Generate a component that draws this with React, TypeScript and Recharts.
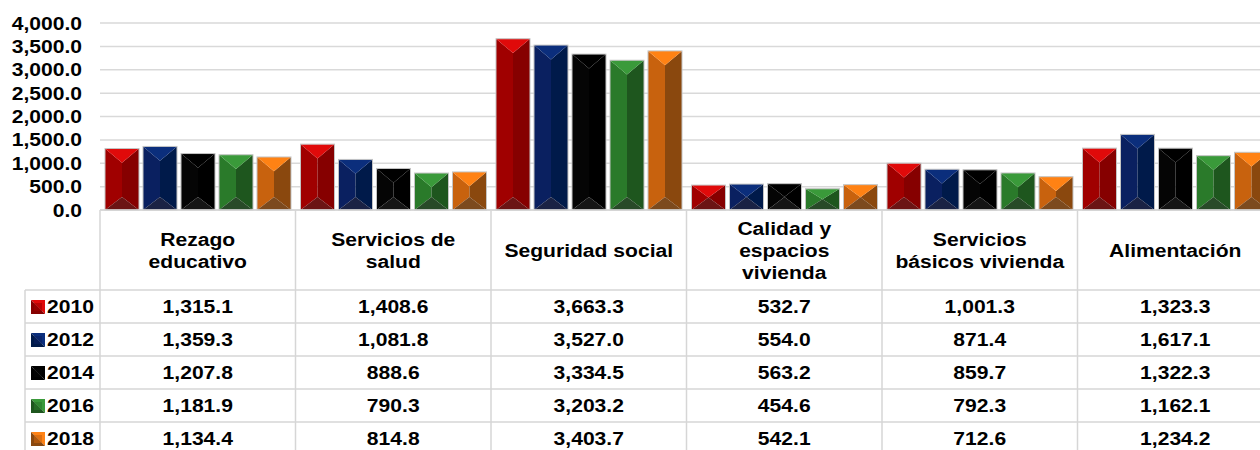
import { BarChart, Bar, XAxis, YAxis, CartesianGrid, Legend } from 'recharts'

const categories = [
  'Rezago\neducativo',
  'Servicios de\nsalud',
  'Seguridad social',
  'Calidad y\nespacios\nvivienda',
  'Servicios\nbásicos vivienda',
  'Alimentación',
]
const years = ['2010', '2012', '2014', '2016', '2018']
const y2010 = [1315.1, 1408.6, 3663.3, 532.7, 1001.3, 1323.3]
const y2012 = [1359.3, 1081.8, 3527.0, 554.0, 871.4, 1617.1]
const y2014 = [1207.8, 888.6, 3334.5, 563.2, 859.7, 1322.3]
const y2016 = [1181.9, 790.3, 3203.2, 454.6, 792.3, 1162.1]
const y2018 = [1134.4, 814.8, 3403.7, 542.1, 712.6, 1234.2]
const yTicks = [0, 500, 1000, 1500, 2000, 2500, 3000, 3500, 4000]

const seriesValues: Record<string, number[]> = {
  '2010': y2010,
  '2012': y2012,
  '2014': y2014,
  '2016': y2016,
  '2018': y2018,
}

// top / left / right / bottom faces of the bevelled bars
const SHADES: Record<string, string[]> = {
  '2010': ['#e00a0a', '#a00000', '#860000', '#6b1414'],
  '2012': ['#0b2e7c', '#0a2060', '#001a4a', '#1a2244'],
  '2014': ['#000000', '#050505', '#000000', '#151515'],
  '2016': ['#3a9a3a', '#2a7a2a', '#1e561e', '#284a28'],
  '2018': ['#ff8214', '#c8620e', '#8a480e', '#7c4a1e'],
}

const data = categories.map((name, i) => {
  const row: Record<string, string | number> = { name }
  years.forEach((yr) => (row[yr] = seriesValues[yr][i]))
  return row
})

const CHART_W = 1280
const PLOT_LEFT = 100
const PLOT_RIGHT = 7
const BAND = (CHART_W - PLOT_LEFT - PLOT_RIGHT) / categories.length
const FONT = '"Liberation Sans", Arial, sans-serif'
const FS = 18.5
const SX = 1.14
const BORDER = '#d6d6d6'
const HEADER_H = 80
const ROW_H = 33

const fmt = (v: number) =>
  v.toLocaleString('en-US', { minimumFractionDigits: 1, maximumFractionDigits: 1 })

function Txt({ x, y, children, anchor = 'middle' }: any) {
  return (
    <text
      transform={`translate(${x},${y}) scale(${SX},1)`}
      textAnchor={anchor}
      dominantBaseline="central"
      fontFamily={FONT}
      fontWeight="bold"
      fontSize={FS}
      fill="#000"
    >
      {children}
    </text>
  )
}

function bevel(colors: string[]) {
  return (props: any) => {
    const { x, y, width: w, height: h } = props
    if (!h || h <= 0) return <g />
    const cx = x + w / 2
    const dt = Math.min(w * 0.42, h / 2)
    const db = Math.min(w * 0.38, h / 2)
    const [top, left, right, bottom] = colors
    return (
      <g>
        <polygon points={`${x},${y} ${cx},${y + dt} ${cx},${y + h - db} ${x},${y + h}`} fill={left} />
        <polygon points={`${x + w},${y} ${cx},${y + dt} ${cx},${y + h - db} ${x + w},${y + h}`} fill={right} />
        <polygon points={`${x},${y} ${x + w},${y} ${cx},${y + dt}`} fill={top} />
        <polygon points={`${x},${y + h} ${x + w},${y + h} ${cx},${y + h - db}`} fill={bottom} />
        <rect x={x} y={y} width={w} height={h} fill="none" stroke="#c4c4c4" strokeWidth={1} />
      </g>
    )
  }
}

function YTick({ x, y, payload }: any) {
  return <Txt x={x} y={y} anchor="end">{fmt(payload.value)}</Txt>
}

function TableTick({ x, y, payload, index }: any) {
  const left = x - BAND / 2
  const right = x + BAND / 2
  const lines = String(payload.value).split('\n')
  const lh = 22
  const startY = y + HEADER_H / 2 - ((lines.length - 1) * lh) / 2
  const rowLines = years.map((_, i) => y + HEADER_H + ROW_H * i).concat([y + HEADER_H + ROW_H * years.length])
  return (
    <g>
      {index === 0 && (
        <>
          <line x1={left} y1={y} x2={left} y2={y + 260} stroke={BORDER} strokeWidth={1.5} />
          <line x1={25} y1={y + HEADER_H} x2={25} y2={y + 260} stroke={BORDER} strokeWidth={1.5} />
          {rowLines.map((ry) => (
            <line key={ry} x1={25} y1={ry} x2={left} y2={ry} stroke={BORDER} strokeWidth={1.5} />
          ))}
        </>
      )}
      <line x1={right} y1={y} x2={right} y2={y + 260} stroke={BORDER} strokeWidth={1.5} />
      {rowLines.map((ry) => (
        <line key={ry} x1={left} y1={ry} x2={right} y2={ry} stroke={BORDER} strokeWidth={1.5} />
      ))}
      {lines.map((l, i) => (
        <Txt key={i} x={x} y={startY + i * lh}>{l}</Txt>
      ))}
      {years.map((yr, i) => (
        <Txt key={yr} x={x} y={y + HEADER_H + ROW_H * i + ROW_H / 2}>
          {fmt(seriesValues[yr][index])}
        </Txt>
      ))}
    </g>
  )
}

function LegendColumn({ payload }: any) {
  return (
    <div>
      {(payload || []).map((p: any) => {
        const c = SHADES[p.dataKey]
        return (
          <div key={p.dataKey} style={{ height: ROW_H, display: 'flex', alignItems: 'center', paddingLeft: 6 }}>
            <svg width={14} height={14} style={{ display: 'block' }}>
              <polygon points="0,0 14,0 14,14" fill={c[0]} />
              <polygon points="0,0 0,14 14,14" fill={c[2]} />
              <polygon points="3,3 11,3 11,11 3,11" fill={c[1]} opacity={0.6} />
            </svg>
            <span
              style={{
                fontFamily: FONT,
                fontWeight: 'bold',
                fontSize: FS,
                color: '#000',
                marginLeft: 2,
                display: 'inline-block',
                transform: `scaleX(${SX})`,
                transformOrigin: 'left center',
              }}
            >
              {p.value}
            </span>
          </div>
        )
      })}
    </div>
  )
}

export default function App() {
  return (
    <div style={{ position: 'absolute', left: 0, top: 0, width: 1260, height: 450, overflow: 'hidden', background: '#fff' }}>
      <BarChart
        width={CHART_W}
        height={470}
        data={data}
        margin={{ top: 23, right: PLOT_RIGHT, bottom: 0, left: 0 }}
        barSize={34}
        barGap={4}
      >
        <CartesianGrid vertical={false} stroke="#d9d9d9" strokeWidth={1.5} />
        <XAxis
          dataKey="name"
          interval={0}
          height={260}
          tickLine={false}
          tickSize={0}
          tickMargin={0}
          axisLine={{ stroke: BORDER, strokeWidth: 1.5 }}
          tick={<TableTick />}
        />
        <YAxis
          width={PLOT_LEFT}
          domain={[0, 4000]}
          ticks={yTicks}
          axisLine={false}
          tickLine={false}
          tickSize={0}
          tickMargin={18}
          tick={<YTick />}
        />
        <Legend
          layout="horizontal"
          verticalAlign="middle"
          align="center"
          content={<LegendColumn />}
          wrapperStyle={{ left: 25, top: 290, width: 75 }}
        />
        {years.map((yr) => (
          <Bar
            key={yr}
            dataKey={yr}
            name={yr}
            fill={SHADES[yr][1]}
            shape={bevel(SHADES[yr])}
            isAnimationActive={false}
          />
        ))}
      </BarChart>
    </div>
  )
}
